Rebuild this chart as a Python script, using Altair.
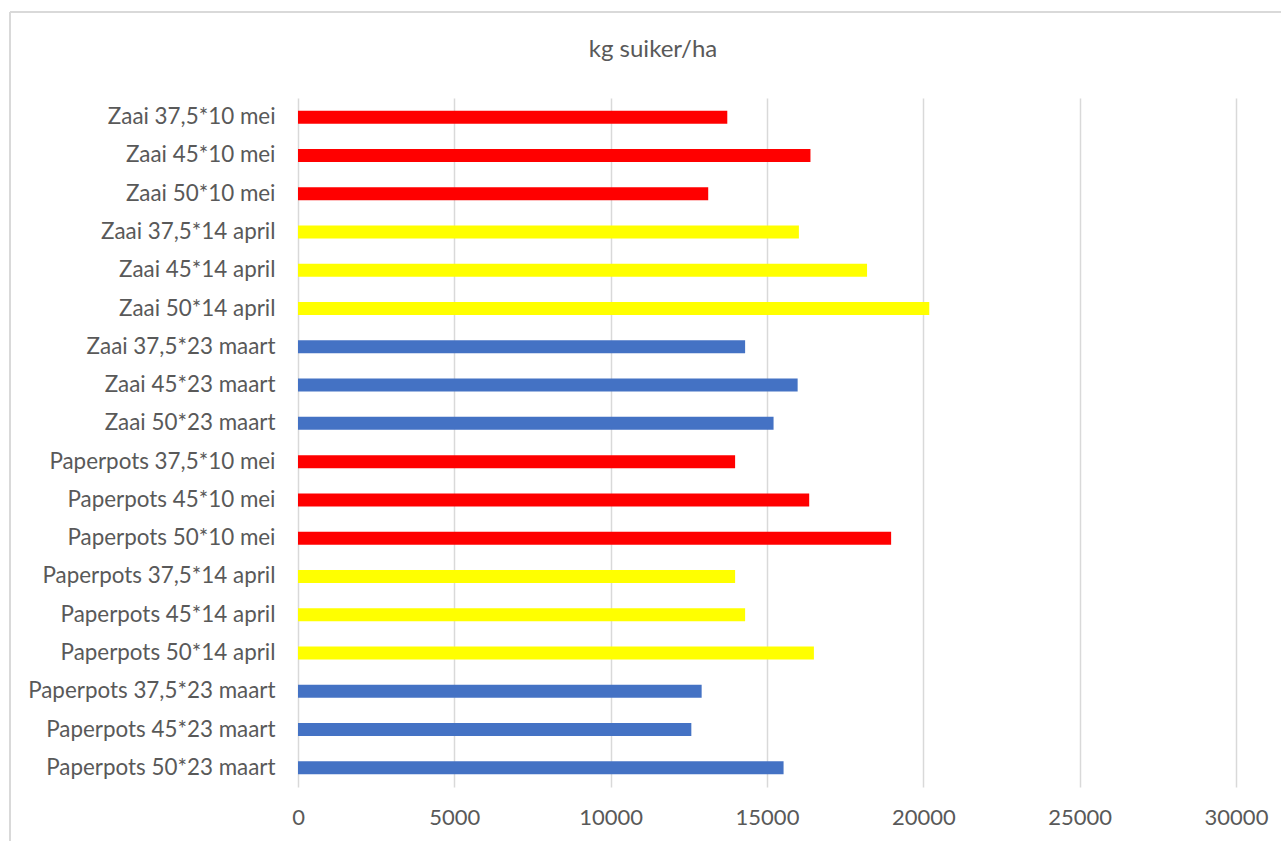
import altair as alt
import pandas as pd

# Treatments, top to bottom
categories = [
    "Zaai 37,5*10 mei", "Zaai 45*10 mei", "Zaai 50*10 mei",
    "Zaai 37,5*14 april", "Zaai 45*14 april", "Zaai 50*14 april",
    "Zaai 37,5*23 maart", "Zaai 45*23 maart", "Zaai 50*23 maart",
    "Paperpots 37,5*10 mei", "Paperpots 45*10 mei", "Paperpots 50*10 mei",
    "Paperpots 37,5*14 april", "Paperpots 45*14 april", "Paperpots 50*14 april",
    "Paperpots 37,5*23 maart", "Paperpots 45*23 maart", "Paperpots 50*23 maart",
]
# Sugar yield, kg/ha
suiker = [
    13730, 16390, 13120,
    16020, 18200, 20190,
    14300, 15980, 15210,
    13980, 16350, 18970,
    13980, 14300, 16500,
    12910, 12580, 15530,
]
# Sowing / planting date of each treatment
datum = [
    "10 mei", "10 mei", "10 mei",
    "14 april", "14 april", "14 april",
    "23 maart", "23 maart", "23 maart",
    "10 mei", "10 mei", "10 mei",
    "14 april", "14 april", "14 april",
    "23 maart", "23 maart", "23 maart",
]
datum_order = ["10 mei", "14 april", "23 maart"]
datum_colors = ["#FF0000", "#FFFF00", "#4472C4"]
x_ticks = [0, 5000, 10000, 15000, 20000, 25000, 30000]
chart_title = "kg suiker/ha"

df = pd.DataFrame({"behandeling": categories, "suiker": suiker, "datum": datum})

FONT = "Lato"
GREY = "#595959"
GRID = "#D9D9D9"

bars = alt.Chart(df).mark_bar().encode(
    y=alt.Y(
        "behandeling:N",
        sort=None,
        title=None,
        scale=alt.Scale(paddingInner=0.66, paddingOuter=0.33),
        axis=alt.Axis(
            ticks=False, domain=False, grid=False,
            labelFont=FONT, labelFontSize=22.4, labelColor=GREY,
            labelPadding=23, labelLimit=400,
        ),
    ),
    x=alt.X(
        "suiker:Q",
        title=None,
        scale=alt.Scale(domain=[0, 30000], nice=False),
        axis=alt.Axis(
            values=x_ticks, ticks=False, domain=False,
            grid=True, gridColor=GRID, gridWidth=1.5,
            labelFont=FONT, labelFontSize=22, labelColor=GREY,
            labelPadding=20, labelFlush=False, format="d",
        ),
    ),
    color=alt.Color(
        "datum:N",
        scale=alt.Scale(domain=datum_order, range=datum_colors),
        legend=None,
    ),
)

single = pd.DataFrame({"titel": [chart_title]})

# Chart title, centred over the chart area
title = alt.Chart(single).mark_text(
    font=FONT, fontSize=24, color=GREY, baseline="middle", align="center"
).encode(text="titel:N", x=alt.value(355), y=alt.value(-48))

# Light grey chart-area frame (top and left edges)
frame_top = alt.Chart(single).mark_rule(color=GRID, strokeWidth=2).encode(
    x=alt.value(-288), x2=alt.value(990), y=alt.value(-86)
)
frame_left = alt.Chart(single).mark_rule(color=GRID, strokeWidth=2).encode(
    x=alt.value(-288), y=alt.value(-86), y2=alt.value(750)
)

chart = (
    alt.layer(bars, title, frame_top, frame_left)
    .properties(
        width=938,
        height=689,
        background="white",
        autosize=alt.AutoSizeParams(type="none"),
        padding={"left": 298, "top": 98, "right": 45, "bottom": 54},
    )
    .configure_view(stroke="transparent", strokeWidth=0)
)

chart.save("out.html", embed_options={"renderer": "svg", "actions": False})
